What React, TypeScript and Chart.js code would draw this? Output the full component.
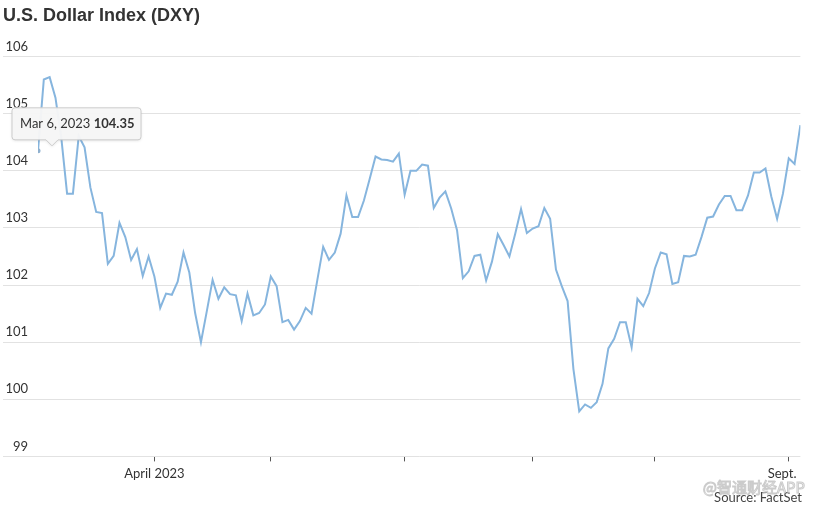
import React, { useEffect, useRef } from 'react';
import { Chart, registerables } from 'chart.js';

Chart.register(...registerables);

// ---- Data ----
const chartTitle = 'U.S. Dollar Index (DXY)';
const sourceText = 'Source: FactSet';
const watermarkText = '@智通财经APP';

// Daily DXY closes, one per trading day, Mar 6 2023 – Sep 5 2023
const dxyValues: number[] = [
  104.35, 105.60, 105.64, 105.28, 104.58, 103.60, 103.60, 104.61, 104.41, 103.71,
  103.28, 103.26, 102.37, 102.51, 103.09, 102.84, 102.44, 102.63, 102.16, 102.50,
  102.15, 101.60, 101.85, 101.83, 102.06, 102.57, 102.22, 101.51, 101.00, 101.54,
  102.09, 101.76, 101.96, 101.84, 101.82, 101.37, 101.85, 101.47, 101.51, 101.66,
  102.15, 101.98, 101.35, 101.39, 101.22, 101.37, 101.60, 101.50, 102.09, 102.67,
  102.44, 102.57, 102.90, 103.57, 103.19, 103.19, 103.48, 103.86, 104.25, 104.20,
  104.19, 104.16, 104.30, 103.58, 104.00, 104.00, 104.11, 104.09, 103.35, 103.53,
  103.64, 103.34, 102.96, 102.12, 102.24, 102.51, 102.53, 102.08, 102.41, 102.89,
  102.70, 102.50, 102.90, 103.33, 102.91, 102.99, 103.03, 103.35, 103.16, 102.27,
  101.98, 101.72, 100.53, 99.79, 99.91, 99.85, 99.95, 100.27, 100.89, 101.06,
  101.35, 101.35, 100.91, 101.76, 101.63, 101.86, 102.29, 102.57, 102.54, 102.02,
  102.05, 102.51, 102.50, 102.53, 102.84, 103.18, 103.20, 103.41, 103.56, 103.56,
  103.31, 103.31, 103.57, 103.97, 103.97, 104.04, 103.55, 103.16, 103.60, 104.22,
  104.12, 104.80,
];

// x-axis ticks: trading-day index of each month start, and its label
const xTickIndices: number[] = [20, 40, 63, 85, 106, 129];
const xTickLabels: string[] = ['April 2023', '', '', '', '', 'Sept.'];
const boldTickLabels: string[] = ['Sept.'];

// y-axis
const yMin = 99;
const yMax = 106;
const yStep = 1;

// highlighted point (tooltip)
const tooltipIndex = 0;
const tooltipDate = 'Mar 6, 2023';

const LINE_COLOR = '#86b5de';
const GRID_COLOR = '#e2e2e2';
const TEXT_COLOR = '#333333';
const FONT = "Lato, 'Open Sans', sans-serif";

const annotationPlugin = {
  id: 'dxyAnnotations',
  afterDraw(chart: any) {
    const ctx: CanvasRenderingContext2D = chart.ctx;
    const meta = chart.getDatasetMeta(0);
    const pt = meta.data[tooltipIndex];
    ctx.save();

    // Source
    ctx.font = `13px ${FONT}`;
    ctx.fillStyle = '#444';
    ctx.textAlign = 'right';
    ctx.textBaseline = 'middle';
    ctx.fillText(sourceText, chart.width - 13, 498);

    // Watermark (faint, outlined)
    ctx.font = `15px 'Noto Sans CJK SC', sans-serif`;
    ctx.lineWidth = 1;
    ctx.strokeStyle = 'rgba(160,160,160,0.55)';
    ctx.fillStyle = 'rgba(255,255,255,0.6)';
    ctx.fillText(watermarkText, chart.width - 10, 487);
    ctx.strokeText(watermarkText, chart.width - 10, 487);

    // Tooltip box
    if (pt) {
      const px = pt.x;
      const py = pt.y;
      const cx = px + 14;
      const left = px - 26;
      const top = py - 43;
      const w = 129;
      const h = 32;
      const r = 3;
      const bottom = top + h;
      ctx.beginPath();
      ctx.moveTo(left + r, top);
      ctx.lineTo(left + w - r, top);
      ctx.quadraticCurveTo(left + w, top, left + w, top + r);
      ctx.lineTo(left + w, bottom - r);
      ctx.quadraticCurveTo(left + w, bottom, left + w - r, bottom);
      ctx.lineTo(cx + 6, bottom);
      ctx.lineTo(cx, bottom + 6);
      ctx.lineTo(cx - 6, bottom);
      ctx.lineTo(left + r, bottom);
      ctx.quadraticCurveTo(left, bottom, left, bottom - r);
      ctx.lineTo(left, top + r);
      ctx.quadraticCurveTo(left, top, left + r, top);
      ctx.closePath();
      ctx.shadowColor = 'rgba(0,0,0,0.12)';
      ctx.shadowBlur = 3;
      ctx.shadowOffsetY = 1;
      ctx.fillStyle = 'rgba(247,247,247,0.96)';
      ctx.fill();
      ctx.shadowColor = 'transparent';
      ctx.strokeStyle = '#cccccc';
      ctx.lineWidth = 1;
      ctx.stroke();

      const dateStr = tooltipDate + ' ';
      const valStr = dxyValues[tooltipIndex].toFixed(2);
      ctx.textAlign = 'left';
      ctx.textBaseline = 'middle';
      ctx.fillStyle = TEXT_COLOR;
      ctx.font = `13px ${FONT}`;
      ctx.fillText(dateStr, left + 8, top + h / 2);
      const dw = ctx.measureText(dateStr).width;
      ctx.font = `bold 13px ${FONT}`;
      ctx.fillText(valStr, left + 8 + dw, top + h / 2);
    }
    ctx.restore();
  },
};

export default function App() {
  const canvasRef = useRef<HTMLCanvasElement | null>(null);

  useEffect(() => {
    if (!canvasRef.current) return;
    const chart = new Chart(canvasRef.current, {
      type: 'line',
      data: {
        datasets: [
          {
            data: dxyValues.map((y, i) => ({ x: i, y })),
            borderColor: LINE_COLOR,
            borderWidth: 2,
            tension: 0,
            fill: false,
            pointRadius: (c: any) => (c.dataIndex === tooltipIndex ? 2.5 : 0),
            pointHoverRadius: 0,
            pointBackgroundColor: '#8fb0cf',
            pointBorderWidth: 0,
          },
        ],
      },
      options: {
        responsive: false,
        animation: false,
        events: [],
        layout: { padding: { left: 3, right: 12, top: 0, bottom: 22 } },
        plugins: {
          legend: { display: false },
          tooltip: { enabled: false },
          title: {
            display: true,
            text: chartTitle,
            align: 'start',
            color: TEXT_COLOR,
            font: { family: "'Liberation Sans', Arial, sans-serif", size: 18, weight: 'bold' },
            padding: { top: 5, bottom: 30 },
          },
        },
        scales: {
          x: {
            type: 'linear',
            min: 0,
            max: dxyValues.length - 1,
            afterBuildTicks: (axis: any) => {
              axis.ticks = xTickIndices.map((v) => ({ value: v }));
            },
            ticks: {
              autoSkip: false,
              maxRotation: 0,
              padding: 5,
              color: TEXT_COLOR,
              font: (c: any) => ({
                family: FONT,
                size: 13,
                weight: c.tick && boldTickLabels.includes(c.tick.label) ? 'bold' : 'normal',
              }),
              callback: (v: any) => {
                const k = xTickIndices.indexOf(Number(v));
                const lab = k >= 0 ? xTickLabels[k] : '';
                return boldTickLabels.includes(lab) ? lab + '    ' : lab;
              },
            },
            grid: {
              drawOnChartArea: false,
              drawTicks: true,
              tickLength: 5,
              tickColor: '#555',
              lineWidth: 1,
            },
            border: { display: false },
          },
          y: {
            min: yMin,
            max: yMax,
            afterFit: (axis: any) => {
              axis.width = 35;
            },
            ticks: {
              stepSize: yStep,
              padding: -25,
              labelOffset: -10,
              color: TEXT_COLOR,
              font: { family: FONT, size: 13 },
            },
            grid: {
              color: GRID_COLOR,
              tickColor: GRID_COLOR,
              drawTicks: true,
              tickLength: 35,
              lineWidth: 1,
            },
            border: { display: false },
          },
        },
      },
      plugins: [annotationPlugin],
    } as any);
    return () => chart.destroy();
  }, []);

  return (
    <div style={{ position: 'absolute', left: 0, top: 0, width: 815, height: 509, background: '#fff' }}>
      <canvas ref={canvasRef} width={815} height={509} style={{ display: 'block' }} />
    </div>
  );
}
